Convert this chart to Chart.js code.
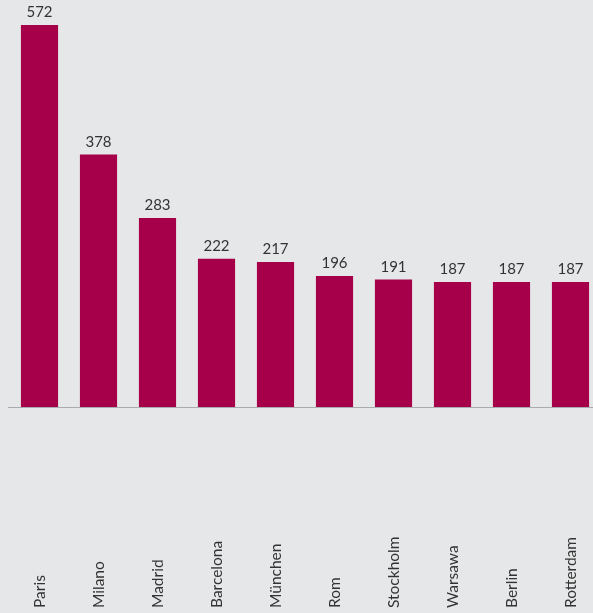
<!DOCTYPE html>
<html>
<head>
<meta charset="utf-8">
<script src="https://cdn.jsdelivr.net/npm/chart.js@4/dist/chart.umd.min.js"></script>
<style>
  html, body { margin: 0; padding: 0; overflow: hidden; background: #e6e7e8; }
  canvas { display: block; }
</style>
</head>
<body>
<canvas id="chart" width="600" height="613"></canvas>
<script>
const cities = ["Paris", "Milano", "Madrid", "Barcelona", "München", "Rom", "Stockholm", "Warsawa", "Berlin", "Rotterdam"];
const values = [572, 378, 283, 222, 217, 196, 191, 187, 187, 187];

const barColor = "#a6004a";
const textColor = "#333333";

// draws value labels, the baseline and the rotated city names
const labelsPlugin = {
  id: "labels",
  afterDatasetsDraw(chart) {
    const ctx = chart.ctx;
    const meta = chart.getDatasetMeta(0);
    const area = chart.chartArea;
    const xScale = chart.scales.x;

    ctx.save();
    ctx.strokeStyle = "#a9abae";
    ctx.lineWidth = 1;
    ctx.beginPath();
    ctx.moveTo(8, Math.round(area.bottom) + 0.5);
    ctx.lineTo(chart.width, Math.round(area.bottom) + 0.5);
    ctx.stroke();

    ctx.fillStyle = textColor;
    ctx.font = "15px Lato";
    ctx.textAlign = "center";
    ctx.textBaseline = "bottom";
    meta.data.forEach((bar, i) => {
      ctx.fillText(String(values[i]), bar.x, bar.y - 5);
    });

    ctx.font = "15.5px Lato";
    ctx.textAlign = "left";
    ctx.textBaseline = "middle";
    cities.forEach((name, i) => {
      const x = xScale.getPixelForValue(i);
      ctx.save();
      ctx.translate(x, chart.height - 5);
      ctx.rotate(-Math.PI / 2);
      ctx.fillText(name, 0, 0);
      ctx.restore();
    });
    ctx.restore();
  }
};

new Chart(document.getElementById("chart"), {
  type: "bar",
  data: {
    labels: cities,
    datasets: [{
      data: values,
      backgroundColor: barColor,
      borderWidth: 0,
      barPercentage: 0.63,
      categoryPercentage: 1
    }]
  },
  options: {
    responsive: false,
    animation: false,
    layout: { padding: { left: 10, right: 0, top: 25, bottom: 206 } },
    plugins: {
      legend: { display: false },
      tooltip: { enabled: false }
    },
    scales: {
      x: { display: false },
      y: { display: false, min: 0, max: 572 }
    }
  },
  plugins: [labelsPlugin]
});
</script>
</body>
</html>
